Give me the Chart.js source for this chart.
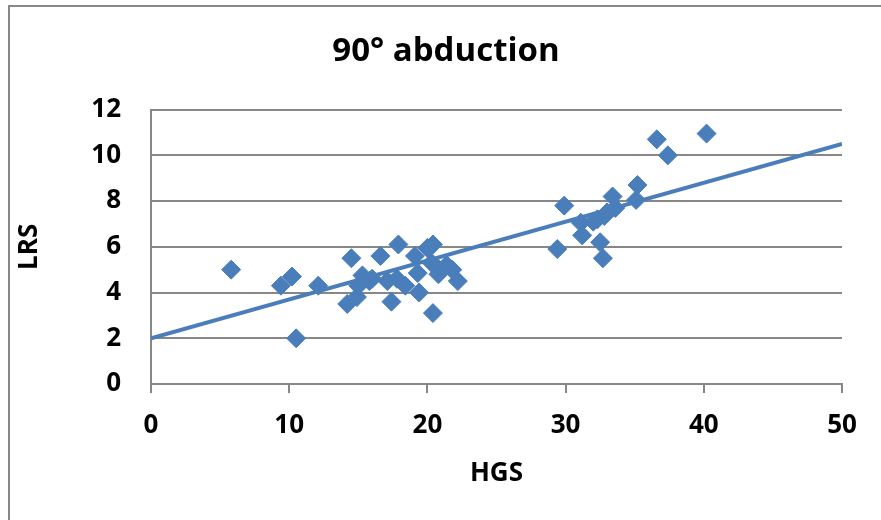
<!DOCTYPE html>
<html>
<head>
<meta charset="utf-8">
<script src="https://cdn.jsdelivr.net/npm/chart.js@4"></script>
<style>
  html, body { margin: 0; padding: 0; background: #fff; overflow: hidden; }
  #frame { position: absolute; left: 8px; top: 5px; width: 900px; height: 600px; border: 2px solid #878787; box-sizing: border-box; }
  #wrap { position: absolute; left: 0; top: 0; width: 881px; height: 520px; }
</style>
</head>
<body>
<div id="frame"></div>
<div id="wrap"><canvas id="scatter-chart"></canvas></div>
<script>
// HGS (x) and LRS (y)
const hgs = [5.8, 9.4, 10.2, 10.5, 12.1,
  14.2, 14.5, 14.9, 15.0, 15.3, 15.8, 16.0, 16.6, 17.1, 17.4, 17.8, 17.9, 18.4,
  19.1, 19.3, 19.4, 20.0, 20.3, 20.4, 20.4, 20.7, 20.8, 21.4, 21.8, 22.2,
  29.4, 29.9, 31.1, 31.2, 32.0, 32.3, 32.5, 32.7, 32.8, 33.0, 33.4, 33.6,
  35.1, 35.2, 36.6, 37.4, 40.2];
const lrs = [5.0, 4.3, 4.7, 2.0, 4.3,
  3.5, 5.5, 3.8, 4.3, 4.75, 4.5, 4.6, 5.6, 4.5, 3.6, 4.6, 6.1, 4.3,
  5.6, 4.85, 4.0, 5.95, 5.3, 6.1, 3.1, 5.1, 4.8, 5.2, 5.0, 4.5,
  5.9, 7.8, 7.05, 6.5, 7.1, 7.2, 6.2, 5.5, 7.35, 7.5, 8.2, 7.7,
  8.05, 8.7, 10.7, 10.0, 10.95];

// linear trendline end points
const trendHgs = [0, 50];
const trendLrs = [2.0, 10.5];

const chartTitle = "90° abduction";
const xTitle = "HGS";
const yTitle = "LRS";

const blue = "#4a7ebb";
const axisGray = "#878787";

Chart.defaults.font.family = "'Open Sans', 'DejaVu Sans', sans-serif";
Chart.defaults.font.weight = "bold";
Chart.defaults.color = "#000";

const ctx = document.getElementById("scatter-chart");

const points = hgs.map((x, i) => ({ x: x, y: lrs[i] }));
const trend = trendHgs.map((x, i) => ({ x: x, y: trendLrs[i] }));

new Chart(ctx, {
  type: "scatter",
  data: {
    datasets: [
      {
        label: "LRS",
        data: points,
        pointStyle: "rectRot",
        pointRadius: 9.5,
        pointHoverRadius: 9.5,
        backgroundColor: blue,
        borderColor: blue,
        borderWidth: 1,
        order: 2,
      },
      {
        type: "line",
        label: "Linear",
        data: trend,
        borderColor: blue,
        borderWidth: 4,
        pointRadius: 0,
        fill: false,
        order: 1,
      },
    ],
  },
  options: {
    responsive: true,
    maintainAspectRatio: false,
    animation: false,
    // left padding keeps the title centred inside the frame
    layout: { padding: { left: 11, right: 0, top: 0, bottom: 0 } },
    plugins: {
      legend: { display: false },
      tooltip: { enabled: false },
      title: {
        display: true,
        text: chartTitle,
        color: "#000",
        font: { size: 33, weight: "bold" },
        padding: { top: 32, bottom: 38 },
      },
    },
    scales: {
      x: {
        type: "linear",
        min: 0,
        max: 50,
        ticks: { stepSize: 10, padding: 17, font: { size: 26 } },
        grid: { drawOnChartArea: false, drawTicks: true, tickLength: 9, color: axisGray, lineWidth: 2 },
        border: { display: true, color: axisGray, width: 2 },
        title: { display: true, text: xTitle, font: { size: 26 }, padding: { top: 4, bottom: 31 } },
        afterFit: (scale) => { scale.height = 136; },
      },
      y: {
        min: 0,
        max: 12,
        ticks: { stepSize: 2, padding: 30, font: { size: 26 } },
        grid: { drawTicks: false, color: axisGray, lineWidth: 2 },
        border: { display: true, color: axisGray, width: 2 },
        title: { display: true, text: yTitle, font: { size: 26 }, padding: { top: 3, bottom: 4 } },
        afterFit: (scale) => { scale.width = 140; },
      },
      // empty space to the right of the plot
      yRight: {
        position: "right",
        min: 0,
        max: 12,
        ticks: { display: false },
        grid: { display: false, drawTicks: false },
        border: { display: false },
        afterFit: (scale) => { scale.width = 39; },
      },
    },
  },
});
</script>
</body>
</html>
